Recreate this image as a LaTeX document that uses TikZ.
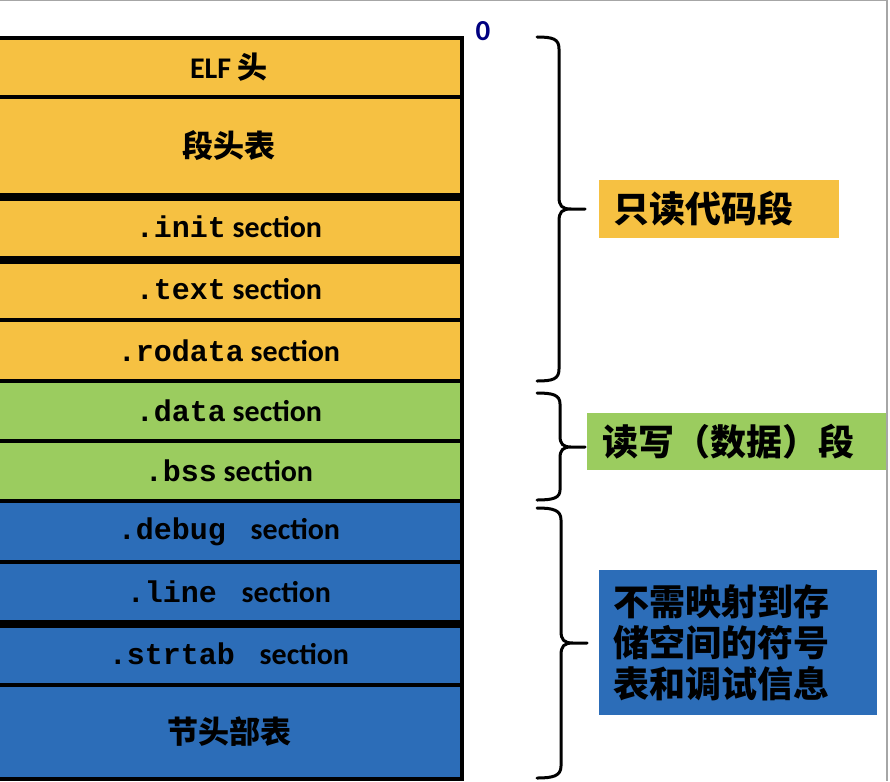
\documentclass[tikz,border=0pt]{standalone}
\usepackage{fontspec}
\setmainfont{Carlito}
\newfontfamily\cjk{Noto Sans CJK SC}
\newfontfamily\mono{Liberation Mono}
\definecolor{segyellow}{HTML}{F6C142}
\definecolor{seggreen}{HTML}{9BCC5F}
\definecolor{segblue}{HTML}{2C6DB8}
\definecolor{offsetblue}{HTML}{000080}
\tikzset{
  rowbox/.style={draw, line width=3.5pt, minimum width=466pt, inner sep=0pt,
    font=\fontsize{30}{32}\selectfont\bfseries},
  sepline/.style={line width=7.5pt},
  labelbox/.style={anchor=west, inner ysep=0pt, align=left,
    font=\cjk\fontsize{36}{41}\selectfont\bfseries},
  bracestyle/.style={line width=3pt, line cap=round, line join=round},
}
\begin{document}
\begin{tikzpicture}[x=1pt,y=-1pt]
  \useasboundingbox (0,0) rectangle (890,781);
  \clip (0,0) rectangle (890,781);
  \fill[white] (0,0) rectangle (890,781);
  % ELF file layout, one row per part
  \node[rowbox, fill=segyellow, minimum height=59pt] (elf) at (229,67.5) {ELF \cjk 头};
  \node[rowbox, fill=segyellow, minimum height=98pt] (phdr) at (229,146) {\cjk\fontsize{31}{33}\selectfont 段头表};
  \node[rowbox, fill=segyellow, minimum height=63pt] (init) at (229,226.5) {{\mono .init} section};
  \node[rowbox, fill=segyellow, minimum height=62pt] (text) at (229,289) {{\mono .text} section};
  \node[rowbox, fill=segyellow, minimum height=61pt] (rodata) at (229,350.5) {{\mono .rodata} section};
  \node[rowbox, fill=seggreen, minimum height=60pt] (data) at (229,411) {{\mono .data} section};
  \node[rowbox, fill=seggreen, minimum height=60pt] (bss) at (229,471) {{\mono .bss} section};
  \node[rowbox, fill=segblue, minimum height=61pt] (debug) at (229,531.5) {{\mono .debug\ } section};
  \node[rowbox, fill=segblue, minimum height=60pt] (line) at (229,592) {{\mono .line\ } section};
  \node[rowbox, fill=segblue, minimum height=63pt] (strtab) at (229,653.5) {{\mono .strtab\ } section};
  \node[rowbox, fill=segblue, minimum height=94pt] (shdr) at (229,732) {\cjk\fontsize{31}{33}\selectfont 节头部表};
  \draw[sepline] (phdr.south west) -- (phdr.south east);
  \draw[sepline] (init.south west) -- (init.south east);
  \draw[sepline] (line.south west) -- (line.south east);
  \node[text=offsetblue, font=\fontsize{29}{30}\selectfont\bfseries] (zero) at (483,31) {0};
  % braces
  \draw[bracestyle] (537,37) .. controls (553,37) and (559,39) .. (559,49) -- (559,197)
    .. controls (559,206) and (562,209) .. (571,209) -- (585,209)
    (571,209) .. controls (562,209) and (559,212) .. (559,221) -- (559,369)
    .. controls (559,379) and (553,381) .. (537,381);
  \draw[bracestyle] (537,393) .. controls (553,393) and (560,395) .. (560,404) -- (560,436)
    .. controls (560,444) and (563,447) .. (571,447) -- (585,447)
    (571,447) .. controls (563,447) and (560,450) .. (560,458) -- (560,490)
    .. controls (560,498) and (553,500) .. (537,500);
  \draw[bracestyle] (537,508) .. controls (553,508) and (561,510) .. (561,520) -- (561,631)
    .. controls (561,640) and (564,643) .. (573,643) -- (587,643)
    (573,643) .. controls (564,643) and (561,646) .. (561,655) -- (561,766)
    .. controls (561,776) and (553,778) .. (537,778);
  % segment labels
  \node[labelbox, fill=segyellow, text width=212pt, inner xsep=14pt, minimum height=58pt] (ro) at (599,209) {只读代码段};
  \node[labelbox, fill=seggreen, text width=270pt, inner xsep=15pt, minimum height=57pt] (rw) at (587,441.5) {读写（数据）段};
  \node[labelbox, fill=segblue, text width=250pt, inner xsep=14pt, minimum height=145pt] (nomap) at (599,642.5) {不需映射到存\\储空间的符号\\表和调试信息};
  % window frame
  \draw[gray!70, line width=1.5pt] (0,0.75) -- (887,0.75) -- (887,781);
\end{tikzpicture}
\end{document}
